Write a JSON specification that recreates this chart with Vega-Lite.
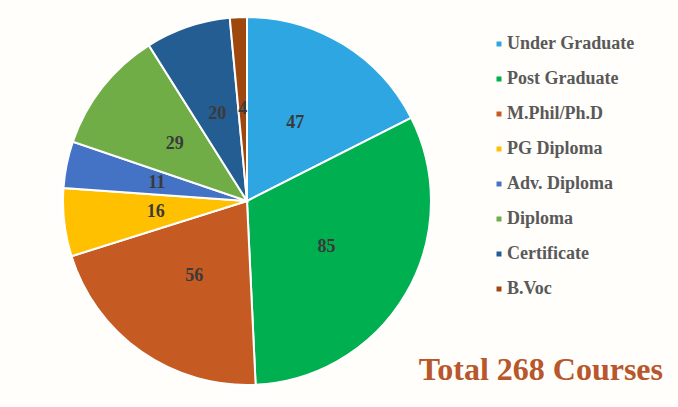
{
  "$schema": "https://vega.github.io/schema/vega-lite/v6.json",
  "width": 494,
  "height": 402,
  "autosize": "none",
  "padding": {"left": 0, "top": 0, "right": 184, "bottom": 5},
  "background": "#fffefb",
  "view": {"stroke": null},
  "title": {
    "text": "Total 268 Courses",
    "orient": "bottom",
    "anchor": "end",
    "frame": "group",
    "baseline": "alphabetic",
    "offset": 0,
    "dx": 169,
    "dy": -22,
    "font": "Liberation Serif",
    "fontSize": 32,
    "fontWeight": "bold",
    "color": "#b8562c"
  },
  "data": {
    "values": [
      {"course": "Under Graduate", "count": 47, "order": 1},
      {"course": "Post Graduate", "count": 85, "order": 2},
      {"course": "M.Phil/Ph.D", "count": 56, "order": 3},
      {"course": "PG Diploma", "count": 16, "order": 4},
      {"course": "Adv. Diploma", "count": 11, "order": 5},
      {"course": "Diploma", "count": 29, "order": 6},
      {"course": "Certificate", "count": 20, "order": 7},
      {"course": "B.Voc", "count": 4, "order": 8}
    ]
  },
  "encoding": {
    "theta": {"field": "count", "type": "quantitative", "stack": true},
    "order": {"field": "order", "type": "quantitative"},
    "color": {
      "field": "course",
      "type": "nominal",
      "sort": ["Under Graduate", "Post Graduate", "M.Phil/Ph.D", "PG Diploma", "Adv. Diploma", "Diploma", "Certificate", "B.Voc"],
      "scale": {
        "domain": ["Under Graduate", "Post Graduate", "M.Phil/Ph.D", "PG Diploma", "Adv. Diploma", "Diploma", "Certificate", "B.Voc"],
        "range": ["#2ea6e2", "#00b050", "#c55a22", "#ffc000", "#4472c4", "#70ad47", "#245d92", "#9e480e"]
      },
      "legend": {
        "title": null,
        "orient": "none",
        "legendX": 490,
        "legendY": 35,
        "symbolType": "square",
        "symbolSize": 25,
        "symbolStrokeWidth": 0,
        "labelFont": "Liberation Serif",
        "labelFontSize": 18,
        "labelFontWeight": "bold",
        "labelColor": "#595959",
        "labelOffset": -1,
        "rowPadding": 17,
        "labelLimit": 200
      }
    }
  },
  "layer": [
    {
      "mark": {"type": "arc", "outerRadius": 184, "stroke": "white", "strokeWidth": 2}
    },
    {
      "mark": {
        "type": "text",
        "radius": 92,
        "font": "Liberation Serif",
        "fontSize": 18,
        "fontWeight": "bold",
        "fill": "#3a3a3a"
      },
      "encoding": {
        "text": {"field": "count", "type": "quantitative"},
        "color": {"value": "#3a3a3a"}
      }
    }
  ]
}
